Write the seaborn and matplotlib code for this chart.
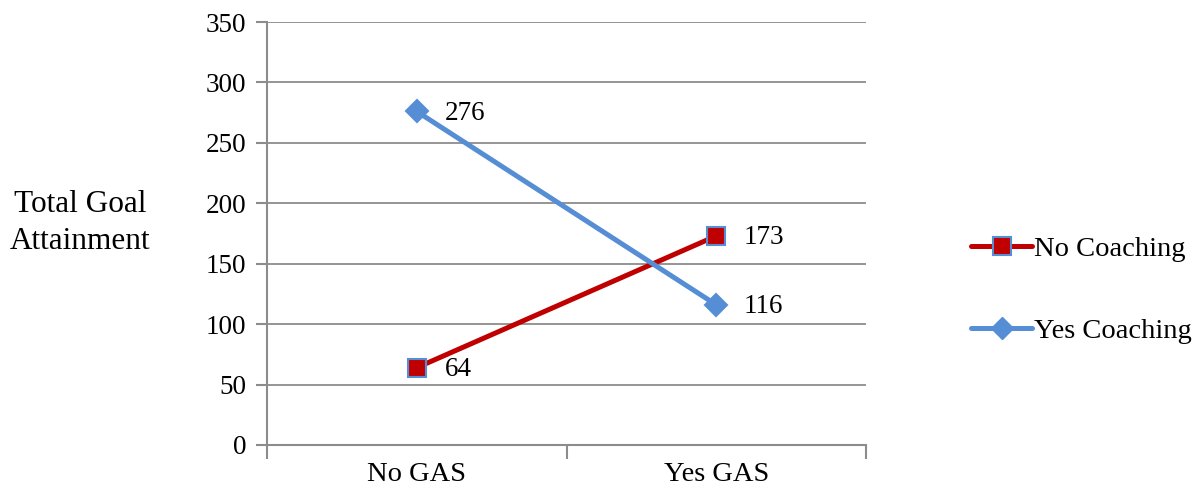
import matplotlib
matplotlib.use("Agg")
import matplotlib.pyplot as plt
from matplotlib.lines import Line2D
import seaborn as sns
import pandas as pd

categories = ["No GAS", "Yes GAS"]
no_coaching = [64, 173]
yes_coaching = [276, 116]
series_names = ["No Coaching", "Yes Coaching"]
y_ticks = [0, 50, 100, 150, 200, 250, 300, 350]

df = pd.DataFrame({
    "x": list(range(len(categories))) * 2,
    "value": no_coaching + yes_coaching,
    "series": [series_names[0]] * len(categories) + [series_names[1]] * len(categories),
})

sns.set_theme(style="white")
plt.rcParams["font.family"] = ["Liberation Serif", "DejaVu Serif"]
plt.rcParams["text.color"] = "black"
plt.rcParams["xtick.labelcolor"] = "black"
plt.rcParams["ytick.labelcolor"] = "black"

RED = "#C00000"
BLUE = "#558ED5"
GRID = "#8C8C8C"

fig = plt.figure(figsize=(12.03, 4.96), dpi=100)
ax = fig.add_axes([267 / 1203, 1 - 445 / 496, (866 - 267) / 1203, (445 - 22) / 496])

palette = {series_names[0]: RED, series_names[1]: BLUE}
markers = {series_names[0]: "s", series_names[1]: "D"}
sns.lineplot(data=df, x="x", y="value", hue="series", style="series",
             palette=palette, markers=markers, dashes=False, linewidth=3.6,
             markersize=13, markeredgecolor=BLUE, markeredgewidth=1.5,
             ax=ax, legend=False)
# diamonds are drawn a little smaller than the squares
for line in ax.lines:
    if line.get_marker() == "D":
        line.set_markersize(11)

for i, v in enumerate(no_coaching):
    ax.annotate(str(v), (i, v), xytext=(20, -1), textcoords="offset points",
                va="center", ha="left", fontsize=19.5, color="black")
for i, v in enumerate(yes_coaching):
    ax.annotate(str(v), (i, v), xytext=(20, -1.5), textcoords="offset points",
                va="center", ha="left", fontsize=19.5, color="black")

ax.set_xlim(-0.5, len(categories) - 0.5)
ax.set_ylim(0, 350)
ax.set_yticks(y_ticks)
ax.set_yticklabels([str(t) for t in y_ticks], fontsize=19.5, color="black")
ax.set_xticks(range(len(categories)))
ax.set_xticklabels(categories, fontsize=20.5, color="black")
ax.tick_params(axis="x", length=0, pad=12)
ax.tick_params(axis="y", length=8, width=1.5, color=GRID, left=True, pad=7)
# tick marks between the categories
ax.set_xticks([-0.5, 0.5, 1.5], minor=True)
ax.tick_params(axis="x", which="minor", length=10, width=1.5, color=GRID, bottom=True)

ax.grid(axis="y", color=GRID, linewidth=1.3)
ax.set_axisbelow(True)
for side in ["top", "right"]:
    ax.spines[side].set_visible(False)
for side in ["left", "bottom"]:
    ax.spines[side].set_color(GRID)
    ax.spines[side].set_linewidth(1.5)

ax.set_xlabel("")
ax.set_ylabel("")
fig.text(80 / 1203, 1 - 223 / 496, "Total Goal\nAttainment", ha="center", va="center",
         fontsize=22.5, linespacing=1.38, color="black")

handles = [
    Line2D([0], [0], color=RED, lw=3.6, marker="s", markersize=13,
           markerfacecolor=RED, markeredgecolor=BLUE, markeredgewidth=1.5),
    Line2D([0], [0], color=BLUE, lw=3.6, marker="D", markersize=11,
           markerfacecolor=BLUE, markeredgecolor=BLUE),
]
leg = fig.legend(handles, series_names, loc="center left",
                 bbox_to_anchor=(957 / 1203, 1 - 290 / 496), frameon=False,
                 fontsize=20.5, handlelength=2.15, handletextpad=0.05, labelspacing=1.95,
                 borderpad=0)
for t in leg.get_texts():
    t.set_color("black")

fig.savefig("out.png", dpi=100)
